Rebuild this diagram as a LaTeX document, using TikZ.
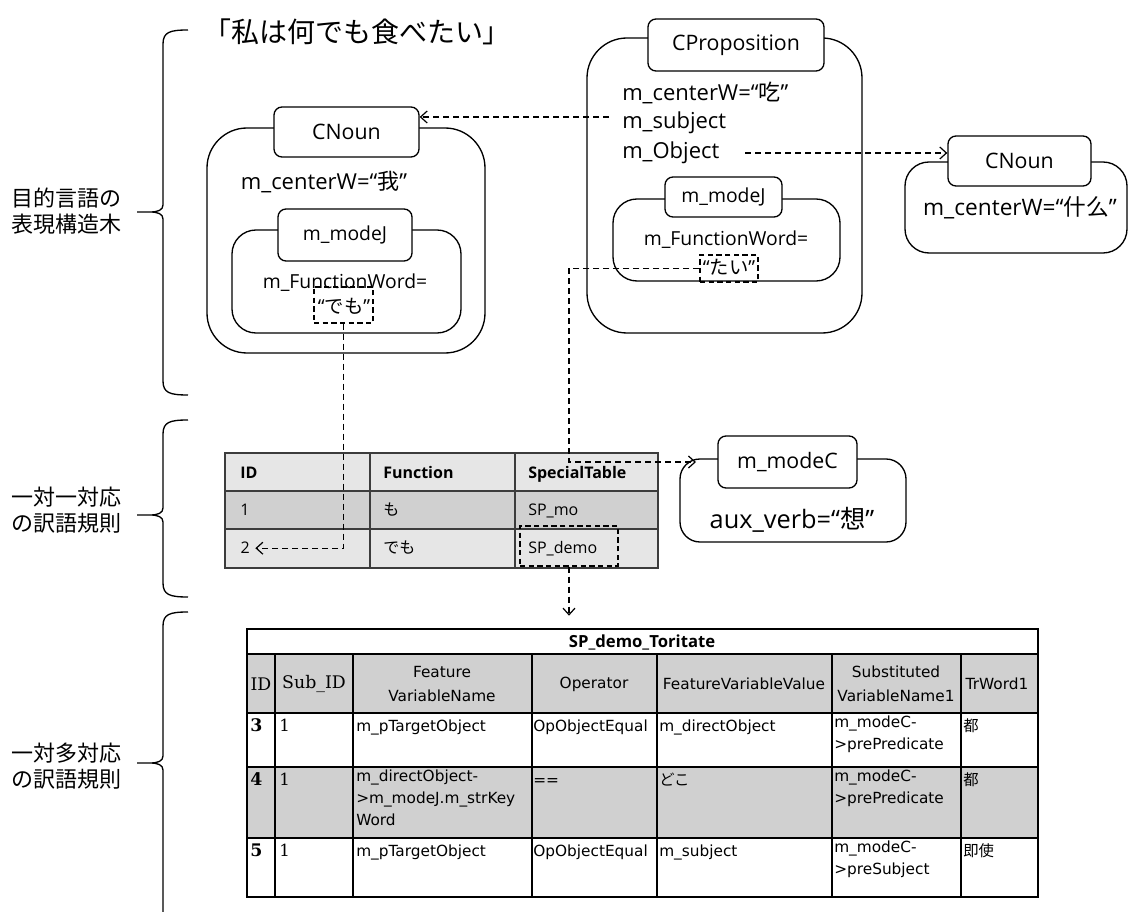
\documentclass[tikz,border=0pt]{standalone}
\usepackage{fontspec}
\setmainfont{Open Sans}
\newfontfamily\jp{Noto Sans CJK JP}
\newfontfamily\dvs{DejaVu Sans}
\newfontfamily\dvserif{DejaVu Serif}
\usetikzlibrary{arrows.meta,fit}
\definecolor{gridline}{HTML}{3C3C3C}
\definecolor{lightfill}{HTML}{E6E6E6}
\definecolor{darkfill}{HTML}{D0D0D0}

% left curly brace: top y, tip y, bottom y
\newcommand\sidebrace[3]{%
  \draw[braceline] (188,#1) .. controls (170,#1) and (163,#1+2) .. (163,#1+14)
    -- (163,#2-7) .. controls (163,#2-2) and (158,#2) .. (150,#2) -- (137,#2)
    (150,#2) .. controls (158,#2) and (163,#2+2) .. (163,#2+7)
    -- (163,#3-14) .. controls (163,#3-2) and (170,#3) .. (188,#3);}

\begin{document}
\begin{tikzpicture}[x=0.75pt,y=-0.75pt,
  every node/.style={inner sep=0pt},
  braceline/.style={line width=1pt},
  frame/.style={draw, line width=1pt, fit={#1}, inner sep=0pt},
  tab/.style={draw, fill=white, line width=1pt, rounded corners=6pt},
  dashbox/.style={draw, line width=0.9pt, dash pattern=on 4pt off 2.5pt, fit={#1}, inner sep=0pt},
  dasharrow/.style={line width=0.9pt, dash pattern=on 4.5pt off 3pt,
    -{Straight Barb[length=5pt,width=9pt]}},
  label16/.style={font=\fontsize{16}{19}\selectfont},
  field/.style={font=\fontsize{16.5}{20}\selectfont},
  modej/.style={font=\fontsize{14.5}{18}\selectfont},
  sidelabel/.style={align=center, font=\jp\fontsize{16.5}{19.5}\selectfont},
  mtext/.style={anchor=base west, font=\fontsize{12}{15}\selectfont},
  tcell/.style={anchor=north west, align=left, font=\dvs\fontsize{11.5}{16.5}\selectfont,
    execute at begin node=\strut},
  tnum/.style={anchor=north west, font=\dvserif\fontsize{12.5}{16.5}\selectfont,
    execute at begin node=\strut},
  tbold/.style={tnum, font=\dvserif\bfseries\fontsize{13}{16.5}\selectfont},
  hcell/.style={anchor=center, align=center, font=\dvs\fontsize{11.5}{18}\selectfont},
  hserif/.style={anchor=center, font=\dvserif\fontsize{13}{18}\selectfont},
  tblborder/.style={draw=gridline, line width=1.8pt},
  thinrule/.style={draw=black, line width=1.1pt}
]
\useasboundingbox (0,0) rectangle (1129,912);

% ---------- side braces and their captions ----------
\sidebrace{30}{212}{395}
\sidebrace{420}{515}{597}
\draw[braceline] (188,612) .. controls (170,612) and (163,614) .. (163,626)
    -- (163,756) .. controls (163,761) and (158,763) .. (150,763) -- (137,763)
    (150,763) .. controls (158,763) and (163,765) .. (163,770) -- (163,912);

\node[sidelabel] (lab1) at (67,211) {目的言語の\\表現構造木};
\node[sidelabel] (lab2) at (67,510) {一対一対応\\の訳語規則};
\node[sidelabel] (lab3) at (67,766) {一対多対応\\の訳語規則};

% ---------- sentence ----------
\node[font=\jp\fontsize{21}{25}\selectfont] (sentence) at (357,32) {「私は何でも食べたい」};

% ---------- left CNoun ----------
\node[frame={(207,128) (485,353)}, rounded corners=30pt] (cnL) {};
\node[tab, label16, minimum width=108.75pt, minimum height=37.5pt] (cnLtab) at (346.5,132) {CNoun};
\node[field] (cnLw) at (324,182) {m\_centerW=“{\jp 我}”};
\node[frame={(232,230) (461,333)}, rounded corners=18pt] (mjL) {};
\node[tab, modej, minimum width=100.5pt, minimum height=39pt] (mjLtab) at (345,235) {m\_modeJ};
\node[modej] (mjLfw) at (345,283) {m\_FunctionWord=};
\node[modej] (mjLval) at (344,306) {“{\jp でも}”};
\node[dashbox={(314,287) (373,323)}] (demoBox) {};

% ---------- CProposition ----------
\node[frame={(587,38) (862,333)}, rounded corners=30pt] (cp) {};
\node[tab, label16, minimum width=132pt, minimum height=39pt] (cpTab) at (736,45) {CProposition};
\node[field, anchor=west] (cpW) at (622,93) {m\_centerW=“{\jp 吃}”};
\node[field, anchor=west] (cpSubj) at (622,123) {m\_subject};
\node[field, anchor=west] (cpObj) at (622,153) {m\_Object};
\node[frame={(613,199) (840,281)}, rounded corners=18pt] (mjR) {};
\node[tab, modej, minimum width=87.75pt, minimum height=30pt] (mjRtab) at (723.5,197) {m\_modeJ};
\node[modej] (mjRfw) at (726,240) {m\_FunctionWord=};
\node[modej] (mjRval) at (729,267) {“{\jp たい}”};
\node[dashbox={(700,255) (758,282)}] (taiBox) {};

% ---------- right CNoun ----------
\node[frame={(905,162) (1127,253)}, rounded corners=18pt] (cnR) {};
\node[tab, label16, minimum width=107.25pt, minimum height=37.5pt] (cnRtab) at (1019.5,161) {CNoun};
\node[font=\fontsize{17}{20}\selectfont] (cnRw) at (1020,208) {m\_centerW=“{\jp 什么}”};

% ---------- m_modeC ----------
\node[frame={(680,459) (906,542)}, rounded corners=15pt] (mc) {};
\node[tab, label16, minimum width=104.25pt, minimum height=39pt] (mcTab) at (787.5,462) {m\_modeC};
\node[font=\fontsize{19}{22}\selectfont] (mcVerb) at (792,520) {aux\_verb=“{\jp 想}”};

% ---------- one-to-one rule table ----------
\fill[lightfill] (225,453) rectangle (658,491);
\fill[darkfill] (225,491) rectangle (658,529);
\fill[lightfill] (225,529) rectangle (658,568);
\draw[tblborder] (225,491) -- (658,491) (225,529) -- (658,529)
  (370,453) -- (370,568) (515,453) -- (515,568);
\draw[tblborder] (225,453) rectangle (658,568);

\node[mtext] (mtHid) at (240,479) {\bfseries ID};
\node[mtext] (mtHfn) at (383,479) {\bfseries Function};
\node[mtext] (mtHsp) at (528,479) {\bfseries SpecialTable};
\node[mtext] (mt1id) at (240,516) {1};
\node[mtext] (mt1fn) at (383,516) {\jp も};
\node[mtext] (mt1sp) at (528,516) {SP\_mo};
\node[mtext, inner xsep=4pt] (mt2id) at (235,554) {2};
\node[mtext] (mt2fn) at (383,554) {\jp でも};
\node[mtext] (mt2sp) at (528,554) {SP\_demo};
\node[dashbox={(520,526) (618,566)}] (spBox) {};

% ---------- one-to-many rule table ----------
\fill[darkfill] (247,654) rectangle (1038,713);
\fill[darkfill] (247,767) rectangle (1038,838);
\draw[thinrule] (247,713) -- (1038,713) (247,767) -- (1038,767) (247,838) -- (1038,838);
\foreach \cx in {275,353,532,657,832,961}
  \draw[thinrule] (\cx,654) -- (\cx,897);
\draw[thinrule] (247,629) rectangle (1038,897);
\draw[draw=black, line width=2.2pt] (247,654) -- (1038,654);

\node[font=\bfseries\fontsize{12.5}{15}\selectfont] (spTitle) at (642,642) {SP\_demo\_Toritate};
\coordinate (spTop) at (642,629);

\node[hserif] (hID) at (261,684) {ID};
\node[hserif] (hSub) at (314,684) {Sub\_ID};
\node[hcell] (hFVN) at (442,684) {Feature\\VariableName};
\node[hcell] (hOp) at (594,684) {Operator};
\node[hcell] (hFVV) at (744,684) {FeatureVariableValue};
\node[hcell] (hSVN) at (896,684) {Substituted\\VariableName1};
\node[hcell] (hTr) at (997,684) {TrWord1};

\node[tbold] (r3id) at (250,716) {3};
\node[tnum] (r3sub) at (279,716) {1};
\node[tcell] (r3fvn) at (356,716) {m\_pTargetObject};
\node[tcell] (r3op) at (533,716) {OpObjectEqual};
\node[tcell] (r3fvv) at (659,716) {m\_directObject};
\node[tcell] (r3svn) at (834,716) {m\_modeC-\\>prePredicate};
\node[tcell] (r3tr) at (963,716) {\jp 都};

\node[tbold] (r4id) at (250,770) {4};
\node[tnum] (r4sub) at (279,770) {1};
\node[tcell] (r4fvn) at (356,770) {m\_directObject-\\>m\_modeJ.m\_strKey\\Word};
\node[tcell] (r4op) at (533,770) {==};
\node[tcell] (r4fvv) at (659,770) {\jp どこ};
\node[tcell] (r4svn) at (834,770) {m\_modeC-\\>prePredicate};
\node[tcell] (r4tr) at (963,770) {\jp 都};

\node[tbold] (r5id) at (250,841) {5};
\node[tnum] (r5sub) at (279,841) {1};
\node[tcell] (r5fvn) at (356,841) {m\_pTargetObject};
\node[tcell] (r5op) at (533,841) {OpObjectEqual};
\node[tcell] (r5fvv) at (659,841) {m\_subject};
\node[tcell] (r5svn) at (834,841) {m\_modeC-\\>preSubject};
\node[tcell] (r5tr) at (963,841) {\jp 即使};

% ---------- dashed references ----------
\coordinate (subjRef) at (609,117);
\coordinate (objRef) at (745,153);
\coordinate (mcIn) at (696,462);
\draw[dasharrow] (subjRef) -- (cnLtab.east |- subjRef);
\draw[dasharrow] (objRef) -- (cnRtab.west |- objRef);
\draw[dasharrow] (demoBox.south) |- (mt2id.east);
\draw[dasharrow] (taiBox.west) -| (spBox.north |- mcIn) -- (mcIn);
\draw[dasharrow, shorten >=10pt] (spBox.south) -- (spBox.south |- spTop);
\end{tikzpicture}
\end{document}
